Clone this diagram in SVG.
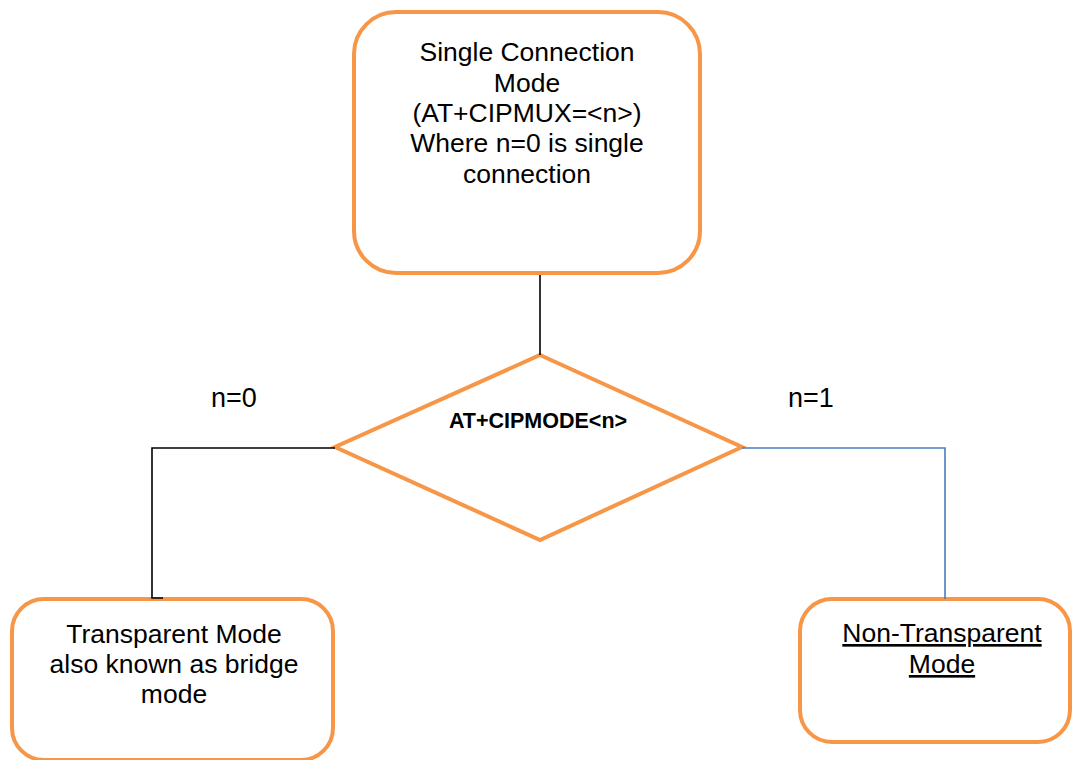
<svg xmlns="http://www.w3.org/2000/svg" width="1073" height="760" viewBox="0 0 1073 760">
  <style>
    .box { fill: #ffffff; stroke: #f79646; stroke-width: 4; }
    .label { font-family: "Liberation Sans", Arial, sans-serif; font-size: 26.5px; fill: #000000; text-anchor: middle; }
    .cond { font-family: "Liberation Sans", Arial, sans-serif; font-size: 21.5px; font-weight: bold; fill: #000000; text-anchor: middle; }
    .branch { font-family: "Liberation Sans", Arial, sans-serif; font-size: 27px; fill: #000000; }
    .wire { fill: none; stroke: #000000; stroke-width: 1.6; }
    .wire-blue { fill: none; stroke: #4a7ebb; stroke-width: 1.6; }
  </style>
  <rect width="1073" height="760" fill="#ffffff"/>

  <!-- single connection mode -->
  <g id="single-connection">
    <rect class="box" x="354" y="12" width="346" height="261" rx="42" ry="42"/>
    <text class="label" x="527" y="61">Single Connection</text>
    <text class="label" x="527" y="92">Mode</text>
    <text class="label" x="527" y="122">(AT+CIPMUX=&lt;n&gt;)</text>
    <text class="label" x="527" y="152">Where n=0 is single</text>
    <text class="label" x="527" y="183">connection</text>
  </g>

  <!-- mode decision -->
  <g id="cipmode">
    <polygon class="box" points="540,355 742,447 540,540 335,447" stroke-linejoin="miter"/>
    <text class="cond" x="538" y="428">AT+CIPMODE&lt;n&gt;</text>
  </g>

  <!-- branch labels -->
  <g id="branch-labels">
    <text class="branch" x="211" y="407">n=0</text>
    <text class="branch" x="788" y="407">n=1</text>
  </g>

  <!-- transparent mode -->
  <g id="transparent">
    <rect class="box" x="12" y="599" width="321" height="161" rx="32" ry="32"/>
    <text class="label" x="174" y="643">Transparent Mode</text>
    <text class="label" x="174" y="673">also known as bridge</text>
    <text class="label" x="174" y="703">mode</text>
  </g>

  <!-- non-transparent mode -->
  <g id="non-transparent">
    <rect class="box" x="800" y="599" width="270" height="143" rx="32" ry="32"/>
    <text class="label" x="942" y="642" text-decoration="underline">Non-Transparent</text>
    <text class="label" x="942" y="673" text-decoration="underline">Mode</text>
  </g>

  <!-- connectors, drawn over the shape outlines -->
  <g id="connectors">
    <line class="wire" x1="540" y1="275" x2="540" y2="355"/>
    <polyline class="wire" points="335,448 152,448 152,598 163,598"/>
    <polyline class="wire-blue" points="742,448 945,448 945,599"/>
  </g>
</svg>
